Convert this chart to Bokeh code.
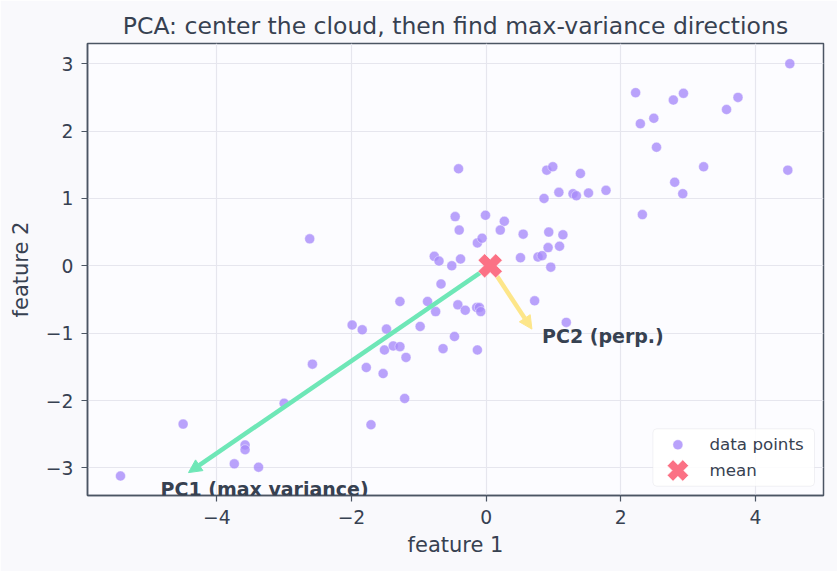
import numpy as np
from bokeh.plotting import figure
from bokeh.models import (Range1d, FixedTicker, Arrow, NormalHead, Label,
                          BoxAnnotation)
from bokeh.embed import file_html
from bokeh.resources import INLINE

# 2-D sample cloud
feature_1 = [-5.43, -4.50, -3.74, -3.38, -3.58, -3.58, -3.00, -2.58, -2.62, -1.99,
             -1.84, -1.48, -1.78, -1.53, -1.51, -1.71, -1.21, -1.38, -1.28, -1.19,
             -1.28, -0.98, -0.87, -0.75, -0.67, -0.64, -0.47, -0.42, -0.31, -0.14,
             -0.10, -0.08, -0.13, -0.77, -0.70, -0.51, -0.38, -0.13, -0.06, -0.46,
             -0.40, -0.41, -0.01, 0.27, 0.21, 0.55, 0.51, 0.77, 0.83, 0.96,
             0.92, 1.09, 0.93, 1.14, 0.72, 1.19, 0.86, 1.08, 1.29, 1.34,
             0.90, 0.99, 1.40, 1.52, 1.78, 2.22, 2.29, 2.49, 2.53, 2.78,
             2.93, 3.57, 3.74, 4.51, 3.23, 4.48, 2.80, 2.92, 2.32]
feature_2 = [-3.12, -2.35, -2.94, -2.99, -2.66, -2.73, -2.04, -1.46, 0.40, -0.88,
             -0.95, -0.94, -1.51, -1.60, -1.25, -2.36, -1.97, -1.19, -1.20, -1.36,
             -0.53, -0.90, -0.53, -0.68, -0.27, -1.23, -1.05, -0.58, -0.66, -0.62,
             -0.62, -0.68, -1.25, 0.14, 0.07, 0.00, 0.10, 0.34, 0.41, 0.73,
             0.53, 1.44, 0.75, 0.66, 0.53, 0.47, 0.12, 0.13, 0.15, -0.02,
             0.27, 0.29, 0.50, 0.46, -0.52, -0.84, 1.00, 1.09, 1.07, 1.04,
             1.42, 1.47, 1.37, 1.08, 1.12, 2.57, 2.11, 2.19, 1.76, 2.46,
             2.56, 2.32, 2.50, 3.00, 1.47, 1.42, 1.24, 1.07, 0.76]

# centre of the cloud and the two principal directions (arrow tips)
cloud_mean = [0.06, 0.00]
pc1_tip = [-4.42, -3.07]
pc2_tip = [0.68, -0.94]

x_ticks = [-4, -2, 0, 2, 4]
y_ticks = [-3, -2, -1, 0, 1, 2, 3]
legend_labels = ["data points", "mean"]

FONT = "DejaVu Sans"
INK = "#374151"
SPINE = "#4b5563"
GRID = "#e6e6ee"
POINT = "#a78bfa"
MEAN = "#fb7185"
PC1 = "#6ee7b7"
PC2 = "#fde68a"

W, H = 837, 571
BL, BR, BT, BB = 87, 14, 43, 76
FW, FH = W - BL - BR, H - BT - BB  # plot frame size in pixels

p = figure(width=W, height=H, output_backend="svg", toolbar_location=None,
           x_range=Range1d(-5.92, 5.01), y_range=Range1d(-3.41, 3.30),
           min_border_left=BL, min_border_right=BR, min_border_top=BT,
           min_border_bottom=BB,
           title="PCA: center the cloud, then find max-variance directions")
# pixel coordinates inside the frame, used to lay out the legend box
p.extra_x_ranges = {"px": Range1d(0, FW)}
p.extra_y_ranges = {"px": Range1d(0, FH)}

p.background_fill_color = "#fcfcff"
p.border_fill_color = "#f9f9fc"
p.outline_line_color = SPINE
p.outline_line_width = 1.5

p.title.align = "center"
p.title.text_font = FONT
p.title.text_font_size = "23.5px"
p.title.text_font_style = "normal"
p.title.text_color = INK
p.title.standoff = 8

for ax, ticks in ((p.xaxis[0], x_ticks), (p.yaxis[0], y_ticks)):
    ax.ticker = FixedTicker(ticks=ticks)
    ax.major_label_overrides = {t: (f"\u2212{abs(t)}" if t < 0 else str(t)) for t in ticks}
    ax.minor_tick_line_color = None
    ax.major_tick_in = 0
    ax.major_tick_out = 6
    ax.major_tick_line_color = SPINE
    ax.major_tick_line_width = 1.2
    ax.axis_line_color = SPINE
    ax.axis_line_width = 1.5
    ax.major_label_text_font = FONT
    ax.major_label_text_font_size = "18.75px"
    ax.major_label_text_color = INK
    ax.major_label_standoff = 8
    ax.axis_label_text_font = FONT
    ax.axis_label_text_font_size = "21px"
    ax.axis_label_text_font_style = "normal"
    ax.axis_label_text_color = INK

p.xaxis.axis_label = "feature 1"
p.yaxis.axis_label = "feature 2"
p.xaxis.axis_label_standoff = 6
p.yaxis.axis_label_standoff = 10

p.xgrid.grid_line_color = GRID
p.ygrid.grid_line_color = GRID
p.xgrid.grid_line_width = 1.2
p.ygrid.grid_line_width = 1.2

point_style = dict(fill_color=POINT, fill_alpha=0.8,
                   line_color="white", line_width=0.5, line_alpha=0.8)
mean_style = dict(marker="plus", angle=np.pi / 4, fill_color=MEAN,
                  line_color="white", line_width=0.6)

p.scatter(feature_1, feature_2, size=10, marker="circle", **point_style)

# principal component arrows from the mean
for tip, col in ((pc1_tip, PC1), (pc2_tip, PC2)):
    p.add_layout(Arrow(x_start=cloud_mean[0], y_start=cloud_mean[1],
                       x_end=tip[0], y_end=tip[1],
                       line_color=col, line_width=4.5,
                       end=NormalHead(size=13, fill_color=col, line_color=col,
                                      line_width=1)))

p.scatter([cloud_mean[0]], [cloud_mean[1]], size=25, level="overlay", **mean_style)

label_style = dict(text_font=FONT, text_font_size="19px", text_font_style="bold",
                   text_color=INK, text_baseline="alphabetic", y_offset=7)
p.add_layout(Label(x=-3.29, y=-3.41, text="PC1 (max variance)",
                   text_align="center", **label_style))
p.add_layout(Label(x=0.83, y=-1.152, text="PC2 (perp.)",
                   text_align="left", **label_style))

# legend, laid out in frame pixels from the lower right corner
p.add_layout(BoxAnnotation(left=FW - 170.6, right=FW - 9, bottom=9.3, top=66.7,
                           x_range_name="px", y_range_name="px",
                           fill_color="white", fill_alpha=0.85,
                           line_color="#d4d4dc", line_width=1, border_radius=4))
sw_x = FW - 145.6
row_y = [50.7, 25.0]
p.scatter([sw_x], [row_y[0]], size=10, marker="circle", level="overlay",
          x_range_name="px", y_range_name="px", **point_style)
p.scatter([sw_x], [row_y[1]], size=22, level="overlay",
          x_range_name="px", y_range_name="px", **mean_style)
for lbl, ry in zip(legend_labels, row_y):
    p.add_layout(Label(x=sw_x + 31.6, y=ry - 5.2, text=lbl,
                       x_range_name="px", y_range_name="px",
                       text_font=FONT, text_font_size="16.7px", text_color=INK,
                       text_baseline="alphabetic", y_offset=6))

open("out.html", "w").write(file_html(p, INLINE))
